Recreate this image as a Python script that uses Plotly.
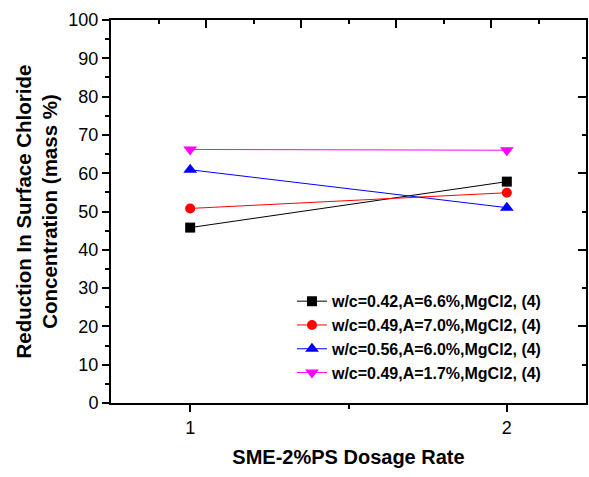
import plotly.graph_objects as go

dosage = [1, 2]
series_names = [
    "w/c=0.42,A=6.6%,MgCl2, (4)",
    "w/c=0.49,A=7.0%,MgCl2, (4)",
    "w/c=0.56,A=6.0%,MgCl2, (4)",
    "w/c=0.49,A=1.7%,MgCl2, (4)",
]
black_vals = [45.8, 57.8]
red_vals = [50.8, 54.9]
blue_vals = [60.9, 51.0]
magenta_vals = [66.2, 66.0]

colors = ["#000000", "#ff0000", "#0000ff", "#ff00ff"]
symbols = ["square", "circle", "triangle-up", "triangle-down"]
sizes = [10, 10, 12, 12]
values = [black_vals, red_vals, blue_vals, magenta_vals]

FONT = "Liberation Sans, Arial, sans-serif"

fig = go.Figure()
for name, vals, c, s, sz in zip(series_names, values, colors, symbols, sizes):
    fig.add_trace(go.Scatter(
        x=dosage, y=vals, name=name, mode="lines+markers",
        line=dict(color=c, width=1),
        marker=dict(symbol=s, size=sz, color=c),
    ))

# helper invisible trace for the mirrored frame axes
fig.add_trace(go.Scatter(x=[None], y=[None], xaxis="x2", yaxis="y2",
                         showlegend=False, hoverinfo="skip"))

fig.update_layout(
    width=589, height=477,
    margin=dict(l=111, r=3, t=20, b=74),
    paper_bgcolor="white", plot_bgcolor="white",
    font=dict(family=FONT, color="#000000", size=18),
    showlegend=True,
    legend=dict(
        x=0.381, y=0.31, xanchor="left", yanchor="top",
        bgcolor="rgba(0,0,0,0)", borderwidth=0,
        font=dict(family=FONT, size=16, color="#000000", weight="bold"),
        tracegroupgap=0, itemwidth=30,
    ),
    xaxis=dict(
        range=[0.75, 2.25], tickmode="linear", tick0=0, dtick=1,
        showgrid=False, zeroline=False,
        showline=True, linecolor="#000000", linewidth=2,
        ticks="outside", ticklen=7, tickwidth=2, tickcolor="#000000",
        minor=dict(dtick=0.5, tick0=0, ticks="outside", ticklen=4, tickwidth=2, tickcolor="#000000", showgrid=False),
        tickfont=dict(size=18),
        title=dict(text="<b>SME-2%PS Dosage Rate</b>", font=dict(size=20), standoff=13),
    ),
    yaxis=dict(
        range=[0, 100], tickmode="linear", tick0=0, dtick=10,
        showgrid=False, zeroline=False,
        showline=True, linecolor="#000000", linewidth=2,
        ticks="outside", ticklen=7, tickwidth=2, tickcolor="#000000",
        minor=dict(dtick=5, tick0=0, ticks="outside", ticklen=4, tickwidth=2, tickcolor="#000000", showgrid=False),
        tickfont=dict(size=18),
        title=dict(text="<b>Reduction In Surface Chloride<br>Concentration (mass %)</b>",
                   font=dict(size=20.5), standoff=5),
    ),
    xaxis2=dict(
        overlaying="x", side="top", range=[0, 10], tickmode="linear", tick0=0, dtick=2,
        showgrid=False, zeroline=False, showticklabels=False,
        showline=True, linecolor="#000000", linewidth=2,
        ticks="inside", ticklen=8, tickwidth=2, tickcolor="#000000",
        minor=dict(dtick=1, tick0=0, ticks="inside", ticklen=4, tickwidth=2, tickcolor="#000000", showgrid=False),
    ),
    yaxis2=dict(
        overlaying="y", side="right", range=[0, 10], tickmode="linear", tick0=0, dtick=2,
        showgrid=False, zeroline=False, showticklabels=False,
        showline=True, linecolor="#000000", linewidth=2,
        ticks="inside", ticklen=8, tickwidth=2, tickcolor="#000000",
        minor=dict(dtick=1, tick0=0, ticks="inside", ticklen=4, tickwidth=2, tickcolor="#000000", showgrid=False),
    ),
)

fig.write_html("out.html")
